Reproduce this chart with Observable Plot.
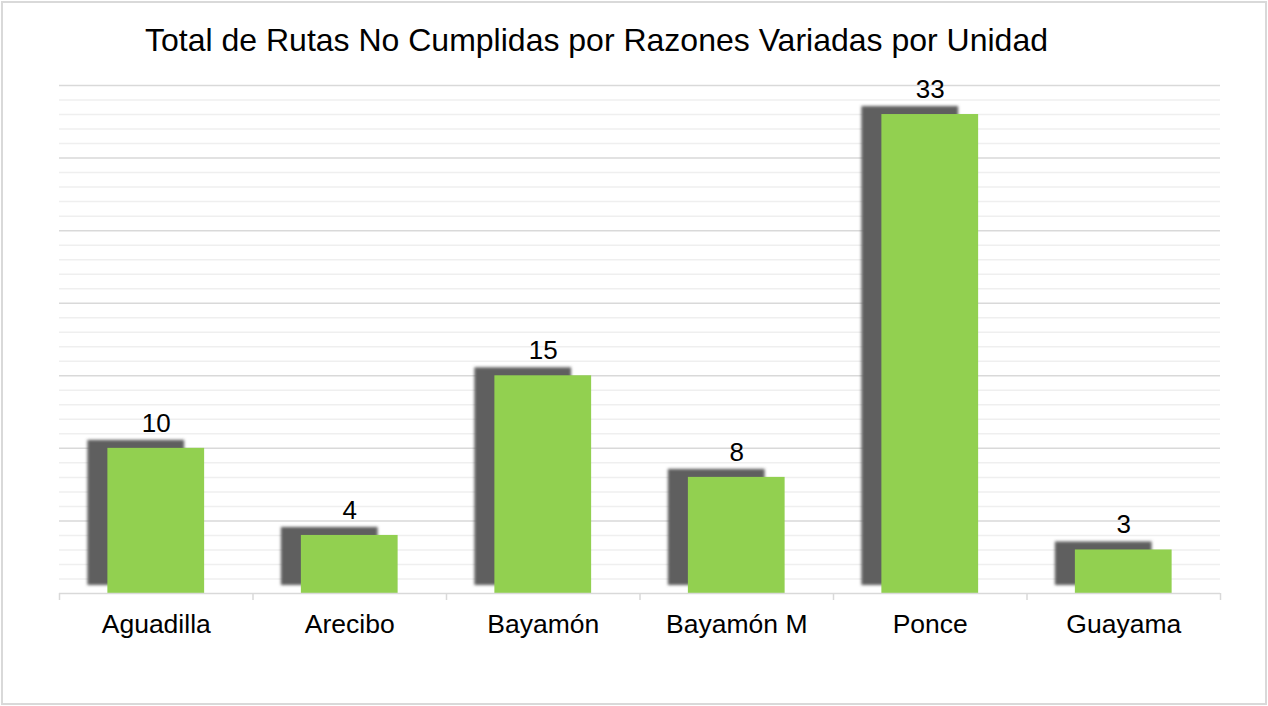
<!DOCTYPE html>
<html><head><meta charset="utf-8">
<script src="https://cdn.jsdelivr.net/npm/d3@7"></script>
<script src="https://cdn.jsdelivr.net/npm/@observablehq/plot@0.6"></script>
<style>
body{margin:0;background:#fff;}
#wrap{position:relative;width:1268px;height:706px;overflow:hidden;font-family:"Liberation Sans",Arial,sans-serif;background:#fff;}
#frame{position:absolute;left:1px;top:1px;width:1262px;height:700px;border:2px solid #d9d9d9;}
#title{position:absolute;left:145px;top:24px;font-size:32px;line-height:32px;color:#000;white-space:nowrap;}
#chart{position:absolute;left:0;top:70px;}
</style></head>
<body>
<div id="wrap">
  <div id="frame"></div>
  <div id="title">Total de Rutas No Cumplidas por Razones Variadas por Unidad</div>
  <div id="chart"></div>
</div>
<script>
const units = ["Aguadilla", "Arecibo", "Bayamón", "Bayamón M", "Ponce", "Guayama"];
const totals = [10, 4, 15, 8, 33, 3];
const yMax = 35;
const majorGrid = [5, 10, 15, 20, 25, 30, 35];
const minorGrid = d3.range(1, yMax).filter(v => v % 5 !== 0);

const data = units.map((u, i) => ({unit: u, total: totals[i]}));

const W = 1268, H = 636, ML = 59, MR = 48, MT = 15, MB = 113;
const step = (W - ML - MR) / units.length;

const plot = Plot.plot({
  width: W, height: H,
  marginLeft: ML, marginRight: MR, marginTop: MT, marginBottom: MB,
  style: {fontFamily: '"Liberation Sans", Arial, sans-serif', color: "#000", background: "transparent", overflow: "visible"},
  x: {domain: units, paddingInner: 0.5, paddingOuter: 0.25, round: false, label: null},
  y: {domain: [0, yMax], axis: null},
  marks: [
    Plot.ruleY(minorGrid, {stroke: "#efefef", strokeWidth: 1.5}),
    Plot.ruleY(majorGrid, {stroke: "#d9d9d9", strokeWidth: 1.5}),
    Plot.barY(data, {x: "unit", y: "total", fill: "#5e5e5e", dx: -20, dy: -8}),
    Plot.barY(data, {x: "unit", y: "total", fill: "#92d050"}),
    Plot.ruleY([0], {stroke: "#d9d9d9", strokeWidth: 1.5}),
    Plot.ruleX(units, {x: d => d, y1: 0, y2: 0, insetBottom: -7, dx: -step / 2, stroke: "#d9d9d9", strokeWidth: 1.5}),
    Plot.ruleX([units[units.length - 1]], {x: d => d, y1: 0, y2: 0, insetBottom: -7, dx: step / 2, stroke: "#d9d9d9", strokeWidth: 1.5}),
    Plot.text(data, {x: "unit", y: "total", text: d => String(d.total), dy: -25, fontSize: 26, fill: "#000"}),
    Plot.axisX({tickSize: 0, tickPadding: 21, fontSize: 26.5, fill: "#000"})
  ]
});

// soft blur on the shadow bars
const svg = d3.select(plot);
const defs = svg.insert("defs", ":first-child");
defs.append("filter").attr("id", "shadowBlur").attr("x", "-10%").attr("y", "-10%").attr("width", "120%").attr("height", "120%")
  .append("feGaussianBlur").attr("stdDeviation", 1.5);
const barGroups = svg.selectAll('g[aria-label="bar"]').nodes();
if (barGroups.length) d3.select(barGroups[0]).attr("filter", "url(#shadowBlur)");

document.getElementById("chart").appendChild(plot);
</script>
</body></html>
